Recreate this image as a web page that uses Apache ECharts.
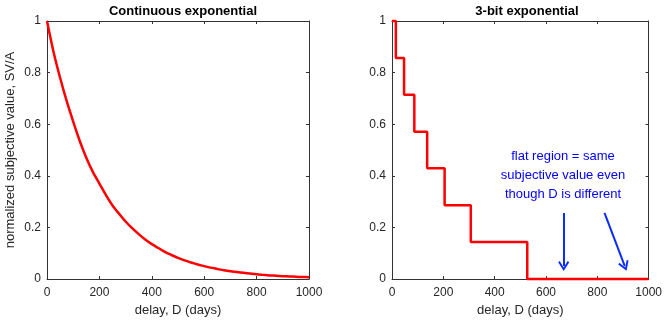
<!DOCTYPE html>
<html>
<head>
<meta charset="utf-8">
<script src="https://cdn.jsdelivr.net/npm/echarts@6/dist/echarts.min.js"></script>
<style>
  html, body { margin: 0; padding: 0; background: #fff; }
  #main { width: 665px; height: 328px; }
</style>
</head>
<body>
<div id="main"></div>
<script>
// continuous exponential, every 25 days
const delayDays = [0, 25, 50, 75, 100, 125, 150, 175, 200, 225, 250, 275, 300, 325, 350, 375,
  400, 425, 450, 475, 500, 525, 550, 575, 600, 625, 650, 675, 700, 725, 750, 775, 800, 825,
  850, 875, 900, 925, 950, 975, 1000];
const svContinuous = [1, 0.88, 0.78, 0.69, 0.61, 0.535, 0.47, 0.415, 0.37, 0.325, 0.285, 0.253,
  0.223, 0.197, 0.174, 0.153, 0.135, 0.12, 0.105, 0.093, 0.082, 0.072, 0.064, 0.056, 0.05,
  0.044, 0.039, 0.034, 0.03, 0.027, 0.024, 0.021, 0.018, 0.016, 0.014, 0.0126, 0.011, 0.0098,
  0.0087, 0.0077, 0.0068];

// 3-bit version: each level starts at the given delay
const stepDays = [0, 15, 47, 87, 137, 205, 307, 527, 1000];
const svStep = [1, 0.857, 0.714, 0.571, 0.429, 0.286, 0.143, 0, 0];

const noteLines = ['flat region = same', 'subjective value even', 'though D is different'];
// arrows [fromDay, fromSV, toDay, toSV]
const arrows = [[669, 0.256, 669, 0.05], [828, 0.256, 907, 0.05]];

const font = 'Liberation Sans, Arial, Helvetica, sans-serif';
const axisColor = '#333';
const chevron = 'path://M5,0 L10,8.5 L8.6,9.6 L5,3.4 L1.4,9.6 L0,8.5 Z';

const chart = echarts.init(document.getElementById('main'));

function xAxisPair(gridIndex) {
  const base = {
    gridIndex, type: 'value', min: 0, max: 1000, interval: 200,
    axisLine: { show: true, onZero: false, lineStyle: { color: axisColor, width: 1 } },
    axisTick: { show: true, inside: true, length: 3, lineStyle: { color: axisColor } },
    splitLine: { show: false }
  };
  return [
    Object.assign({}, base, {
      position: 'bottom',
      name: 'delay, D (days)',
      nameLocation: 'middle', nameGap: 25,
      nameTextStyle: { color: '#262626', fontSize: 13, fontFamily: font },
      axisLabel: { color: '#262626', fontSize: 12, fontFamily: font, margin: 8,
        formatter: v => String(v) }
    }),
    Object.assign({}, base, { position: 'top', axisLabel: { show: false } })
  ];
}

function yAxisPair(gridIndex, name) {
  const base = {
    gridIndex, type: 'value', min: 0, max: 1, interval: 0.2,
    axisLine: { show: true, onZero: false, lineStyle: { color: axisColor, width: 1 } },
    axisTick: { show: true, inside: true, length: 3, lineStyle: { color: axisColor } },
    splitLine: { show: false }
  };
  return [
    Object.assign({}, base, {
      position: 'left',
      name: name, nameLocation: 'middle', nameGap: 30, nameRotate: 90,
      nameTextStyle: { color: '#262626', fontSize: 13, fontFamily: font },
      axisLabel: {
        color: '#262626', fontSize: 12, fontFamily: font, margin: 6,
        formatter: v => String(Math.round(v * 10) / 10)
      }
    }),
    Object.assign({}, base, { position: 'right', axisLabel: { show: false } })
  ];
}

chart.setOption({
  animation: false,
  title: [
    { text: 'Continuous exponential', left: 178, top: 0, textAlign: 'center',
      textStyle: { fontSize: 13, fontWeight: 'bold', color: '#000', fontFamily: font } },
    { text: '3-bit exponential', left: 522, top: 0, textAlign: 'center',
      textStyle: { fontSize: 13, fontWeight: 'bold', color: '#000', fontFamily: font } }
  ],
  grid: [
    { left: 47, right: 356, top: 21, bottom: 49 },
    { left: 392, right: 12, top: 21, bottom: 49 }
  ],
  xAxis: [...xAxisPair(0), ...xAxisPair(1)],
  yAxis: [...yAxisPair(0, 'normalized subjective value, SV/A'), ...yAxisPair(1, '')],
  graphic: noteLines.map((t, i) => ({
    type: 'text', x: 563, y: 150 + i * 19,
    style: { text: t, fill: '#0000ff', font: '13px ' + font, textAlign: 'center' }
  })),
  series: [
    {
      type: 'line', xAxisIndex: 0, yAxisIndex: 0,
      data: delayDays.map((d, i) => [d, svContinuous[i]]),
      smooth: 0.3, showSymbol: false, clip: false,
      lineStyle: { color: '#ff0000', width: 2.5 }
    },
    {
      type: 'line', xAxisIndex: 2, yAxisIndex: 2,
      data: stepDays.map((d, i) => [d, svStep[i]]),
      step: 'end', showSymbol: false, clip: false,
      lineStyle: { color: '#ff0000', width: 2.5 },
      markLine: {
        silent: true,
        symbol: ['none', chevron],
        symbolSize: [11, 10],
        label: { show: false },
        lineStyle: { color: '#0a2cff', width: 2, type: 'solid' },
        data: arrows.map(a => [{ coord: [a[0], a[1]] }, { coord: [a[2], a[3]] }])
      }
    }
  ]
});
</script>
</body>
</html>
